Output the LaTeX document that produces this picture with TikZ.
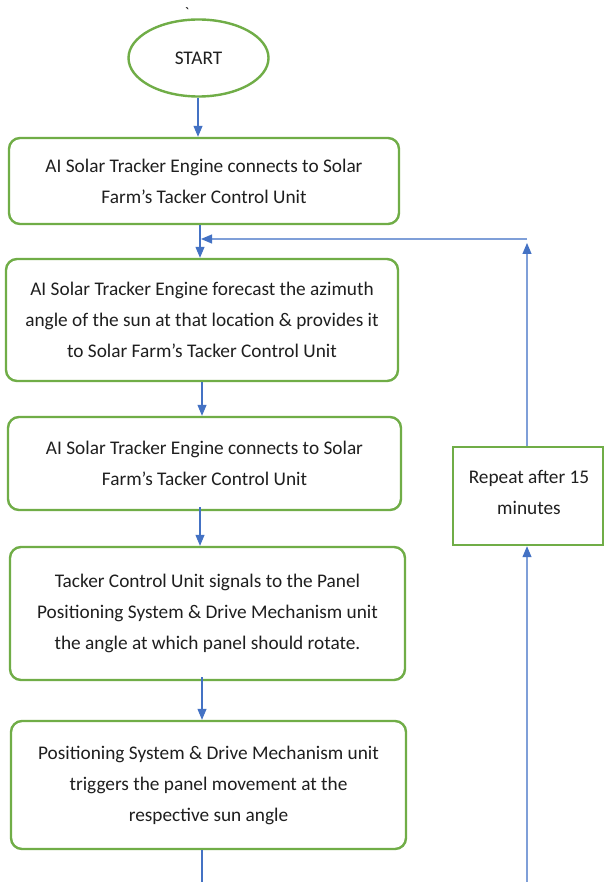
\documentclass[tikz,border=0pt]{standalone}
\usepackage{fontspec}
\setmainfont{Carlito}
\usetikzlibrary{arrows.meta,shapes.geometric}
\definecolor{boxgreen}{HTML}{70AD47}
\definecolor{linkblue}{HTML}{4472C4}
\definecolor{loopblue}{HTML}{7F9FD8}
\tikzset{
  txt/.style={font=\fontsize{19.3}{31}\selectfont, align=center, text=black!88},
  stepbox/.style={txt, draw=boxgreen, line width=2.4pt, rounded corners=11pt, inner sep=0pt},
  startbox/.style={txt, draw=boxgreen, line width=2.4pt, ellipse, inner sep=0pt},
  plainbox/.style={txt, draw=boxgreen, line width=2.4pt, inner sep=0pt},
  link/.style={draw=linkblue, line width=1.1pt, -{Triangle[length=11pt,width=9pt,fill=linkblue]}},
  loop/.style={draw=loopblue, line width=1.1pt},
  looparrow/.style={loop, -{Triangle[length=11pt,width=9pt,fill=linkblue,color=linkblue]}}
}
\begin{document}
\begin{tikzpicture}[x=1pt,y=-1pt]
\useasboundingbox (0,0) rectangle (603,882);
\fill[white] (0,0) rectangle (603,882);

% stray mark above the start node
\node[txt, font=\fontsize{16}{16}\selectfont] (mark) at (187,13) {\textasciigrave};

% flow nodes
\node[startbox, minimum width=140pt, minimum height=77pt] (start) at (198.5,58) {START};
\node[stepbox, minimum width=390pt, minimum height=86pt] (s1) at (204,181)
  {AI Solar Tracker Engine connects to Solar\\Farm’s Tacker Control Unit};
\node[stepbox, minimum width=392pt, minimum height=122pt] (s2) at (202,320)
  {AI Solar Tracker Engine forecast the azimuth\\angle of the sun at that location \& provides it\\to Solar Farm’s Tacker Control Unit};
\node[stepbox, minimum width=393pt, minimum height=93pt] (s3) at (204.5,463.5)
  {AI Solar Tracker Engine connects to Solar\\Farm’s Tacker Control Unit};
\node[stepbox, minimum width=395pt, minimum height=133pt] (s4) at (207.5,613.5)
  {Tacker Control Unit signals to the Panel\\Positioning System \& Drive Mechanism unit\\the angle at which panel should rotate.};
\node[stepbox, minimum width=395pt, minimum height=128pt] (s5) at (208.5,785)
  {Positioning System \& Drive Mechanism unit\\triggers the panel movement at the\\respective sun angle};
\node[plainbox, minimum width=150pt, minimum height=98pt] (rep) at (528,496) {};
\node[txt] (reptext) at (529,492) {Repeat after 15\\minutes};

% helper points for the connectors
\coordinate (c0) at (198,0);
\coordinate (c1) at (200,0);
\coordinate (c2) at (202,0);
\coordinate (corner) at (527,241);
\coordinate (join) at (201,241);
\coordinate (outL) at (202,882);
\coordinate (outR) at (527,882);

% main chain
\draw[link] (start.south -| c0) -- (s1.north -| c0);
\draw[link] (s1.south -| c1) -- (s2.north -| c1);
\draw[link] (s2.south -| c2) -- (s3.north -| c2);
\draw[link] ([yshift=4pt]s3.south -| c1) -- (s4.north -| c1);
\draw[link] ([yshift=4pt]s4.south -| c2) -- (s5.north -| c2);
\draw[loop, draw=linkblue] (s5.south -| c2) -- (outL);

% repeat loop
\draw[looparrow] (outR) -- (rep.south -| corner);
\draw[looparrow] (rep.north -| corner) -- ([yshift=-2pt]corner);
\draw[looparrow] ([yshift=2pt]corner) -- ([yshift=2pt]join);
\end{tikzpicture}
\end{document}
